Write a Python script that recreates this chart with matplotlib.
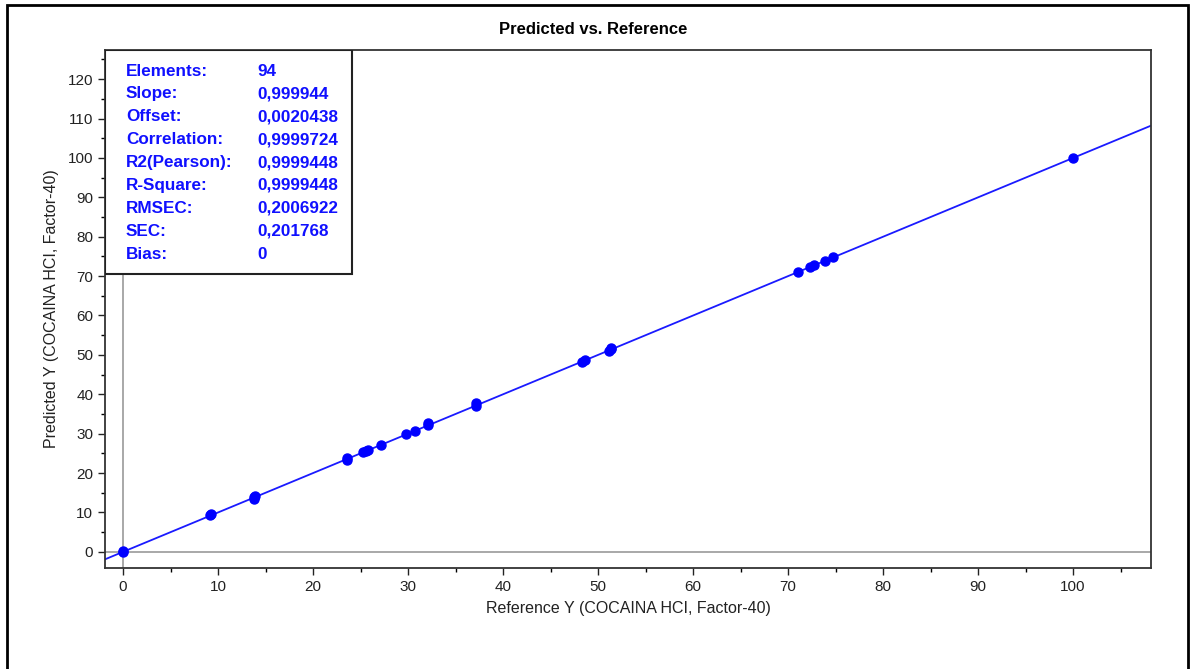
import numpy as np
import matplotlib
matplotlib.use("Agg")
import matplotlib.pyplot as plt
from matplotlib.patches import Rectangle

plt.rcParams["font.family"] = ["Liberation Sans", "DejaVu Sans"]

# Reference vs predicted values
ref_y = [0, 0, 9.2, 9.3, 13.8, 13.8, 13.9, 23.6, 23.6, 25.3, 25.6, 25.8, 27.2,
         29.8, 30.7, 32.1, 32.1, 37.1, 37.1, 48.3, 48.6, 51.1, 51.4, 51.4,
         71.0, 72.3, 72.7, 73.9, 74.7, 100.0]
pred_y = [0, 0.2, 9.3, 9.6, 13.4, 14.0, 14.2, 23.4, 23.8, 25.3, 25.6, 25.8, 27.2,
          30.0, 30.8, 32.2, 32.6, 37.0, 37.9, 48.2, 48.7, 51.0, 51.4, 51.8,
          71.0, 72.3, 72.8, 73.9, 74.8, 100.0]

stat_names = ["Elements:", "Slope:", "Offset:", "Correlation:", "R2(Pearson):",
              "R-Square:", "RMSEC:", "SEC:", "Bias:"]
stat_values = ["94", "0,999944", "0,0020438", "0,9999724", "0,9999448",
               "0,9999448", "0,2006922", "0,201768", "0"]
slope, offset = 0.999944, 0.0020438

fig = plt.figure(figsize=(11.91, 6.69), dpi=100)
ax = fig.add_axes([105 / 1191, 1 - 568 / 669, 1046 / 1191, 518 / 669])

# outer frame of the picture
fig.patches.append(Rectangle((7 / 1191, -0.05), 1181 / 1191, 1.05 - 5 / 669,
                             transform=fig.transFigure, fill=False,
                             edgecolor="black", linewidth=2))

xmin, xmax = -1.9, 108.2
ymin, ymax = -4.1, 127.4
ax.set_xlim(xmin, xmax)
ax.set_ylim(ymin, ymax)

ax.axvline(0, color="#999999", lw=1.2, zorder=1)
ax.axhline(0, color="#999999", lw=1.2, zorder=1)

xs = np.array([xmin, xmax])
ax.plot(xs, slope * xs + offset, color="#1a1aff", lw=1.3, zorder=2)
ax.plot(ref_y, pred_y, "o", color="#0000ff", ms=6.5, zorder=3)

ax.set_xticks(np.arange(0, 101, 10))
ax.set_xticks(np.arange(5, 106, 10), minor=True)
ax.set_yticks(np.arange(0, 121, 10))
ax.set_yticks(np.arange(5, 126, 10), minor=True)
ax.tick_params(axis="both", which="major", direction="out", length=5,
               width=1, labelsize=11, colors="#222222")
ax.tick_params(axis="both", which="minor", direction="out", length=3, width=1)
for s in ax.spines.values():
    s.set_linewidth(1.3)
    s.set_color("#333333")

ax.set_xlabel("Reference Y (COCAINA HCI, Factor-40)", fontsize=11.5,
              color="#222222", labelpad=5)
ax.set_ylabel("Predicted Y (COCAINA HCI, Factor-40)", fontsize=11.5,
              color="#222222", labelpad=6)
fig.text(0.498, 1 - 29 / 669, "Predicted vs. Reference", ha="center",
         va="center", fontsize=12, fontweight="bold")

# statistics box
bx0, by0 = 0, (568 - 274) / 518
ax.add_patch(Rectangle((bx0, by0), (352 - 105) / 1046, 1 - by0,
                       transform=ax.transAxes, facecolor="white",
                       edgecolor="#222222", lw=1.5, zorder=5))
for i, (name, val) in enumerate(zip(stat_names, stat_values)):
    ypos = 1 - (71 - 50 + i * 22.9) / 518
    ax.text(21 / 1046, ypos, name, transform=ax.transAxes, color="#1010ff",
            fontsize=12.3, fontweight="bold", va="center", zorder=6)
    ax.text(152 / 1046, ypos, val, transform=ax.transAxes, color="#1010ff",
            fontsize=12.3, fontweight="bold", va="center", zorder=6)

fig.savefig("out.png", dpi=100)
